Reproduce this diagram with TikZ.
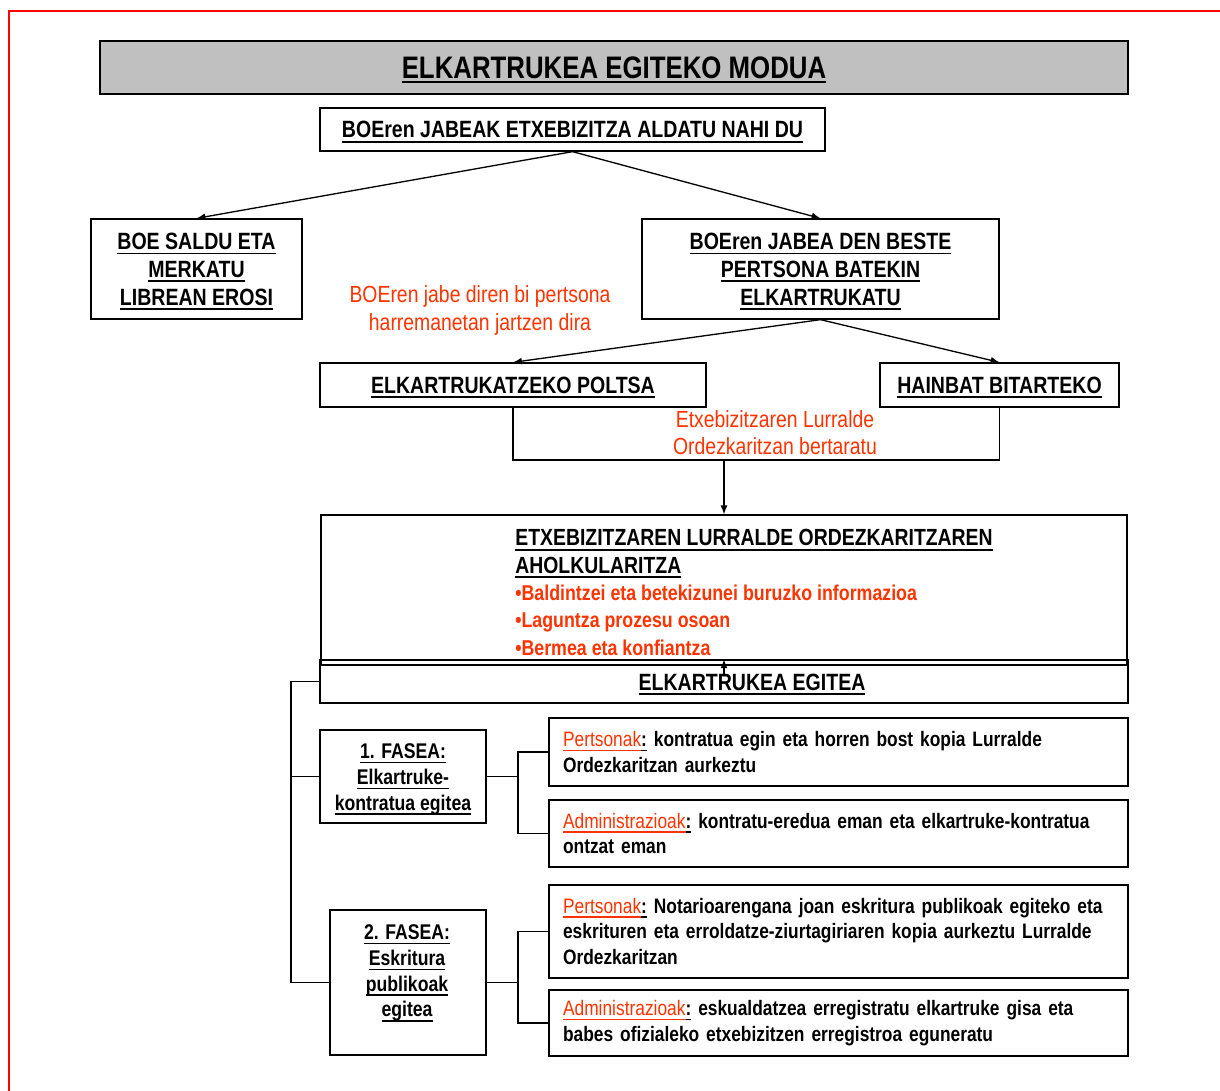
\documentclass[tikz,border=0pt]{standalone}
\usepackage{fontspec}
\setmainfont{Liberation Sans}[FakeStretch=0.83]
\usetikzlibrary{positioning}

\definecolor{ored}{RGB}{255,51,0}
\definecolor{titlegray}{RGB}{192,192,192}

\newcommand{\undl}[2][0.9pt]{\leavevmode\setbox0=\hbox{#2}\rlap{\smash{\rule[-2.8pt]{\wd0}{#1}}}\box0\relax}
\newcommand{\who}[1]{\textcolor{ored}{\mdseries\undl{#1}}\undl{:} }
\newcommand{\titlefont}{\fontsize{17.7}{20}\selectfont\bfseries}
\newcommand{\bigfont}{\fontsize{13.4}{15.9}\selectfont\bfseries}
\newcommand{\smallfont}{\fontsize{12.1}{14.7}\selectfont\bfseries}
\newcommand{\taskfont}{\fontsize{11.9}{14.7}\selectfont\bfseries}
\newcommand{\notefont}{\fontsize{13.3}{15.5}\selectfont}

\begin{document}
\begin{tikzpicture}[x=0.02cm, y=-0.02cm,
        every node/.style={inner sep=0pt, align=center},
        box/.style={draw, line width=0.75pt, font=\bigfont},
        smallbox/.style={draw, line width=0.75pt, font=\smallfont},
        task/.style={draw, line width=0.75pt, font=\taskfont, text width=11.02cm, inner xsep=0.28cm, align=left},
        note/.style={font=\notefont, text=ored}]
        \tikzset{edge/.style = {->,> = latex, line width=0.75pt},
                 link/.style = {line width=0.7pt}}
        \useasboundingbox (0,0) rectangle (1220,1091);
        \draw[red, line width=1.2pt] (1220,11) -- (9,11) -- (9,1091);

        \node[box, fill=titlegray, minimum width=20.56cm, minimum height=1.06cm, font=\titlefont] (title) at (614,67.5) {\undl[1.4pt]{ELKARTRUKEA EGITEKO MODUA}};
        \node[box, minimum width=10.1cm, minimum height=0.86cm] (want) at (572.5,129.5) {\undl{BOEren JABEAK ETXEBIZITZA ALDATU NAHI DU}};
        \node[box, minimum width=4.22cm, minimum height=2cm] (sell) at (196.5,269) {\undl{BOE SALDU ETA}\\\undl{MERKATU}\\\undl{LIBREAN EROSI}};
        \node[box, minimum width=7.14cm, minimum height=2cm] (swap) at (820.5,269) {\undl{BOEren JABEA DEN BESTE}\\\undl{PERTSONA BATEKIN}\\\undl{ELKARTRUKATU}};
        \node[note] (meet) at (480,310.5) {BOEren jabe diren bi pertsona\\harremanetan jartzen dira};
        \node[box, minimum width=7.72cm, minimum height=0.88cm] (poltsa) at (513,385) {\undl{ELKARTRUKATZEKO POLTSA}};
        \node[box, minimum width=4.78cm, minimum height=0.88cm] (agents) at (999.5,385) {\undl{HAINBAT BITARTEKO}};
        \node[note] (visit) at (775,433) {Etxebizitzaren Lurralde\\Ordezkaritzan bertaratu};
        \coordinate (join) at (724,460);

        \node[box, minimum width=16.12cm, minimum height=3cm] (advice) at (724,590) {};
        \node[font=\fontsize{13.3}{15.6}\selectfont\bfseries, align=left, anchor=north west] (advicetxt) at (515,529) {\undl{ETXEBIZITZAREN LURRALDE ORDEZKARITZAREN}\\
            \undl{AHOLKULARITZA}\\
            \fontsize{12.2}{15.6}\selectfont\textcolor{ored}{•Baldintzei eta betekizunei buruzko informazioa}\\
            \fontsize{12.2}{15.6}\selectfont\textcolor{ored}{•Laguntza prozesu osoan}\\
            \fontsize{12.2}{15.6}\selectfont\textcolor{ored}{•Bermea eta konfiantza}};
        \node[box, minimum width=16.16cm, minimum height=0.86cm] (doing) at (724,681.5) {};
        \node[font=\bigfont] (doingtxt) at (752,682) {\undl{ELKARTRUKEA EGITEA}};

        \node[smallbox, minimum width=3.32cm, minimum height=1.86cm] (fase1) at (403,776.5) {};
        \node[font=\smallfont] (fase1txt) at (403,779) {\undl{1. FASEA:}\\\undl{Elkartruke-}\\\undl{kontratua egitea}};
        \node[smallbox, minimum width=3.12cm, minimum height=2.9cm] (fase2) at (408,982.5) {};
        \node[font=\smallfont] (fase2txt) at (407,973) {\undl{2. FASEA:}\\\undl{Eskritura}\\\undl{publikoak}\\\undl{egitea}};

        \node[task, minimum height=1.36cm] (p1) at (838.5,752) {\who{Pertsonak}kontratua egin eta horren bost kopia Lurralde\\Ordezkaritzan aurkeztu};
        \node[task, minimum height=1.34cm] (a1) at (838.5,833.5) {\who{Administrazioak}kontratu-eredua eman eta elkartruke-kontratua\\ontzat eman};
        \node[task, minimum height=1.86cm] (p2) at (838.5,931.5) {\who{Pertsonak}Notarioarengana joan eskritura publikoak egiteko eta\\eskrituren eta erroldatze-ziurtagiriaren kopia aurkeztu Lurralde\\Ordezkaritzan};
        \node[task, minimum height=1.32cm] (a2) at (838.5,1023) {\who{Administrazioak}eskualdatzea erregistratu elkartruke gisa eta\\babes ofizialeko etxebizitzen erregistroa eguneratu};

        \draw[edge] (want.south) to (sell.north);
        \draw[edge] (want.south) to (swap.north);
        \draw[edge] (swap.south) to (poltsa.north);
        \draw[edge] (swap.south) to (agents.north);
        \draw[link] (poltsa.south) |- (join) -| (agents.south);
        \draw[edge] (join) to (advice.north);
        \draw[edge] ([yshift=-0.3cm]doing.north) to (doing.north);

        \coordinate (spine) at (291,681.5);
        \draw[link] (doing.west) -- (spine) |- (fase1.west);
        \draw[link] (spine) |- (fase2.west);

        \coordinate (fork1) at (518,776.5);
        \coordinate (fork2) at (518,982.5);
        \draw[link] (fase1.east) -- (fork1);
        \draw[link] (p1.west) -| (fork1) |- (a1.west);
        \draw[link] (fase2.east) -- (fork2);
        \draw[link] (p2.west) -| (fork2) |- (a2.west);
\end{tikzpicture}
\end{document}
